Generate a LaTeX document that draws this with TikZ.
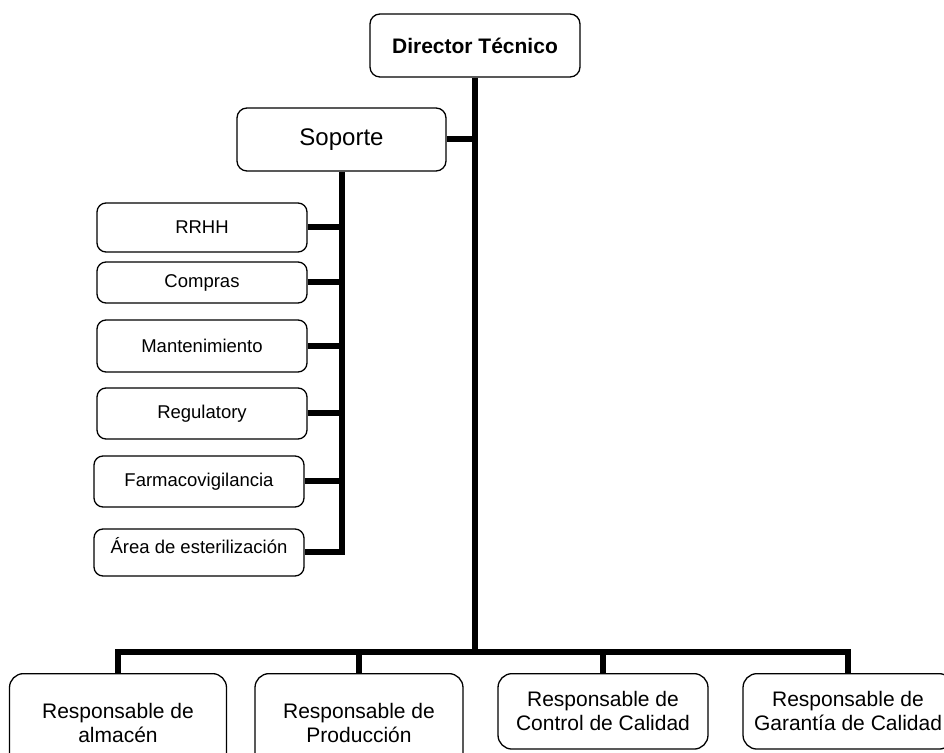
\documentclass[tikz,border=0pt]{standalone}
\usepackage{fontspec}
\setmainfont{Liberation Sans}
\usepackage{tikz}
\usetikzlibrary{positioning}
\tikzset{
  link/.style={line width=6pt,black},
  topbox/.style={draw,line width=1.3pt,rounded corners=10pt,minimum width=210pt,minimum height=63pt,inner sep=2pt},
  subbox/.style={draw,line width=1.3pt,rounded corners=9pt,minimum width=210pt,inner sep=2pt,font=\fontsize{18.5}{22}\selectfont},
  resbox/.style={draw,line width=1.3pt,rounded corners=14pt,minimum width=210pt,anchor=north,align=center,inner xsep=2pt,inner ysep=18pt,font=\fontsize{21}{24}\selectfont}
}

\begin{document}
\begin{tikzpicture}[x=1pt,y=1pt]
\clip (0,0) rectangle (944,752);
\node[topbox,font=\bfseries\fontsize{21}{25}\selectfont] (dir) at (475,706.5) {Director Técnico};
\node[topbox,minimum width=209pt,font=\fontsize{24}{28}\selectfont] (sop) at (341.5,612.5) {Soporte};
\node[subbox,minimum height=49pt] (rrhh) at (202,524.5) {RRHH};
\node[subbox,minimum height=41pt] (comp) at (202,469.5) {Compras};
\node[subbox,minimum height=52pt] (mant) at (202,406) {Mantenimiento};
\node[subbox,minimum height=51pt] (regu) at (202,338.5) {Regulatory};
\node[subbox,minimum height=51pt] (farm) at (199,270.5) {Farmacovigilancia};
\node[subbox,minimum height=47pt,text depth=14pt] (este) at (199,199.5) {Área de esterilización};
\node[resbox,minimum width=217pt,inner ysep=30pt] (alm) at (118,79) {Responsable de\\almacén};
\node[resbox,minimum width=208pt,inner ysep=30pt] (prod) at (359,79) {Responsable de\\Producción};
\node[resbox] (ctrl) at (603,79) {Responsable de\\Control de Calidad};
\node[resbox] (gar) at (848,79) {Responsable de\\Garantía de Calidad};
\coordinate (bus) at (475,100);
\draw[link] (dir.south) -- (bus);
\draw[link] (sop.east) -- (sop.east -| dir.south);
\draw[link] (sop.south) |- (este.east);
\foreach \b in {rrhh,comp,mant,regu,farm}
  \draw[link] (\b.east) -- (\b.east -| sop.south);
\draw[link] (alm.north) |- (bus) -| (gar.north);
\foreach \b in {prod,ctrl}
  \draw[link] (\b.north) -- (\b.north |- bus);
\end{tikzpicture}
\end{document}
